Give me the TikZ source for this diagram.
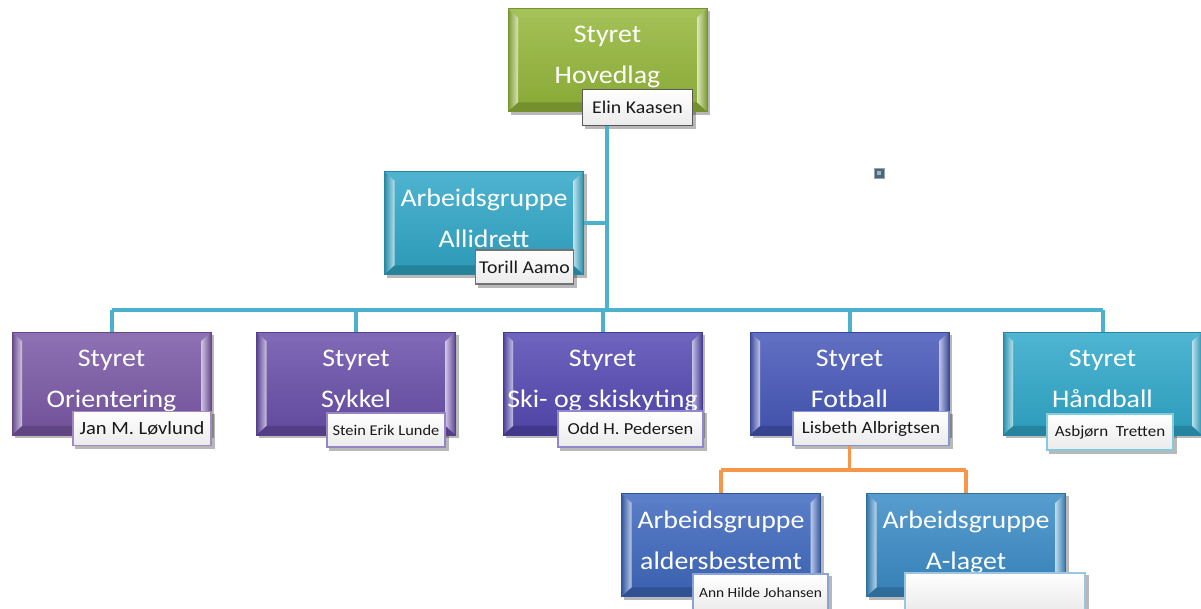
\documentclass[tikz,border=0pt]{standalone}
\usepackage{fontspec}
\setmainfont{Carlito}[FakeStretch=1.1]
\usetikzlibrary{calc,backgrounds}
\definecolor{cGreen}{HTML}{94B73A}
\definecolor{cTeal}{HTML}{2FA6C7}
\definecolor{cOri}{HTML}{7A58A6}
\definecolor{cSyk}{HTML}{6A4FAA}
\definecolor{cSki}{HTML}{5548B2}
\definecolor{cFot}{HTML}{4657B8}
\definecolor{cHand}{HTML}{2FA8CA}
\definecolor{cAld}{HTML}{3E68BE}
\definecolor{cAlag}{HTML}{3A8BC6}
\definecolor{tealline}{HTML}{4BB2CE}
\definecolor{orangeline}{HTML}{F79646}
\definecolor{markfill}{HTML}{50657A}
\definecolor{markdot}{HTML}{9AB6CC}
\tikzset{
  orgbox/.style={rectangle, minimum width=149.25pt, minimum height=77pt, inner sep=0pt,
    text=white, align=center, font=\fontsize{19}{30.75}\selectfont,
    draw=#1!80!black, line width=0.5pt,
    path picture={
      \coordinate (nw) at (path picture bounding box.north west);
      \coordinate (se) at (path picture bounding box.south east);
      \coordinate (ne) at (nw -| se);
      \coordinate (sw) at (nw |- se);
      \shade[top color=#1!85!white, bottom color=#1!92!black] (nw) rectangle (se);
      \fill[#1!85!white] (nw) -- (ne) -- ($(ne)+(-10,9)$) -- ($(nw)+(10,9)$) -- cycle;
      \fill[#1!78!black] (sw) -- (se) -- ($(se)+(-10,-9)$) -- ($(sw)+(10,-9)$) -- cycle;
      \shade[left color=#1!85!black, right color=#1!35!white] (nw) -- ($(nw)+(10,9)$) -- ($(sw)+(10,-9)$) -- (sw) -- cycle;
      \shade[right color=#1!85!black, left color=#1!35!white] (ne) -- ($(ne)+(-10,9)$) -- ($(se)+(-10,-9)$) -- (se) -- cycle;
    }},
  namebox/.style={rectangle, draw=#1, line width=0.8pt, top color=white, bottom color=black!8,
    text=black!90, inner sep=0pt},
  teal conn/.style={draw=tealline, line width=3pt},
  orange conn/.style={draw=orangeline, line width=2.5pt},
  shadowbox/.style={fill=black, opacity=0.28},
}
\newcommand\twolines[2]{#1\\#2\\[-23pt]\mbox{}}
\begin{document}
\begin{tikzpicture}[x=0.75pt, y=-0.75pt]
\useasboundingbox (0,0) rectangle (1201,608);

% main boxes
\node[orgbox=cGreen] (hov) at (607.5,60) {\twolines{Styret}{Hovedlag}};
\node[orgbox=cTeal]  (all) at (484,223) {\twolines{Arbeidsgruppe}{Allidrett}};
\node[orgbox=cOri]   (ori) at (111.5,383.5) {\twolines{Styret}{Orientering}};
\node[orgbox=cSyk]   (syk) at (356,383.5) {\twolines{Styret}{Sykkel}};
\node[orgbox=cSki]   (ski) at (602.5,383.5) {\twolines{Styret}{Ski- og skiskyting}};
\node[orgbox=cFot]   (fot) at (849.5,383.5) {\twolines{Styret}{Fotball}};
\node[orgbox=cHand]  (han) at (1102.5,383.5) {\twolines{Styret}{Håndball}};
\node[orgbox=cAld]   (ald) at (721,545) {\twolines{Arbeidsgruppe}{aldersbestemt}};
\node[orgbox=cAlag]  (ala) at (966,545) {\twolines{Arbeidsgruppe}{A-laget}};

% name boxes
\node[namebox=black!65, minimum width=83pt, minimum height=27pt, font=\fontsize{13.5}{15}\selectfont] (hovn) at (637.5,107.5) {Elin Kaasen};
\node[namebox=black!55, minimum width=74pt, minimum height=25.5pt, font=\fontsize{13.5}{15}\selectfont] (alln) at (524.5,267) {Torill Aamo};
\node[namebox=cOri!70!white, minimum width=103.5pt, minimum height=26pt, font=\fontsize{14}{16}\selectfont] (orin) at (142,428.5) {Jan M. Løvlund};
\node[namebox=cSyk!70!white, minimum width=88.5pt, minimum height=25.5pt, font=\fontsize{11.2}{13}\selectfont] (sykn) at (386,430) {Stein Erik Lunde};
\node[namebox=cSki!65!white, minimum width=108.75pt, minimum height=27pt, font=\fontsize{12.6}{14}\selectfont] (skin) at (630.5,429) {Odd H. Pedersen};
\node[namebox=cFot!65!white, minimum width=117pt, minimum height=25pt, font=\fontsize{13}{15}\selectfont] (fotn) at (871,428.5) {Lisbeth Albrigtsen};
\node[namebox=cHand!60!white, minimum width=94.5pt, minimum height=27pt, font=\fontsize{11.6}{13}\selectfont] (hann) at (1110,432) {Asbjørn\ \ Tretten};
\node[namebox=cAld!60!white, minimum width=101.25pt, minimum height=28.5pt, font=\fontsize{10.5}{12}\selectfont] (aldn) at (760.5,593) {Ann Hilde Johansen};
\node[namebox=cAlag!50!white, minimum width=135pt, minimum height=28.5pt] (alan) at (995,592) {};

% stray marker
\node[rectangle, fill=markfill, draw=markfill!60!white, line width=0.4pt, minimum size=7.5pt, inner sep=0pt,
      path picture={\fill[markdot] ($(path picture bounding box.center)+(-1.6,-1.6)$) rectangle ($(path picture bounding box.center)+(1.6,1.6)$);}] (mark) at (879,173) {};

\coordinate (bus) at (607,310);
\coordinate (obus) at (849.5,470);

\begin{scope}[on background layer]
  % shadows
  \foreach \n in {hov,all,ori,syk,ski,fot,han,ald,ala,hovn,alln,orin,sykn,skin,fotn,hann,aldn,alan}
    \fill[shadowbox] ($(\n.north west)+(3,3)$) rectangle ($(\n.south east)+(3,3)$);
  % teal connectors
  \draw[teal conn] (hov.south -| bus) -- (bus);
  \draw[teal conn] (all.east) -- (all.east -| bus);
  \draw[teal conn] (bus -| ori.north) -- (bus -| han.north);
  \foreach \n in {ori,syk,ski,fot,han}
    \draw[teal conn] (bus -| \n.north) -- (\n.north);
  % orange connectors
  \draw[orange conn] (fot.south) -- (obus);
  \draw[orange conn] (obus -| ald.north) -- (obus -| ala.north);
  \draw[orange conn] (obus -| ald.north) -- (ald.north);
  \draw[orange conn] (obus -| ala.north) -- (ala.north);
\end{scope}
\end{tikzpicture}
\end{document}
